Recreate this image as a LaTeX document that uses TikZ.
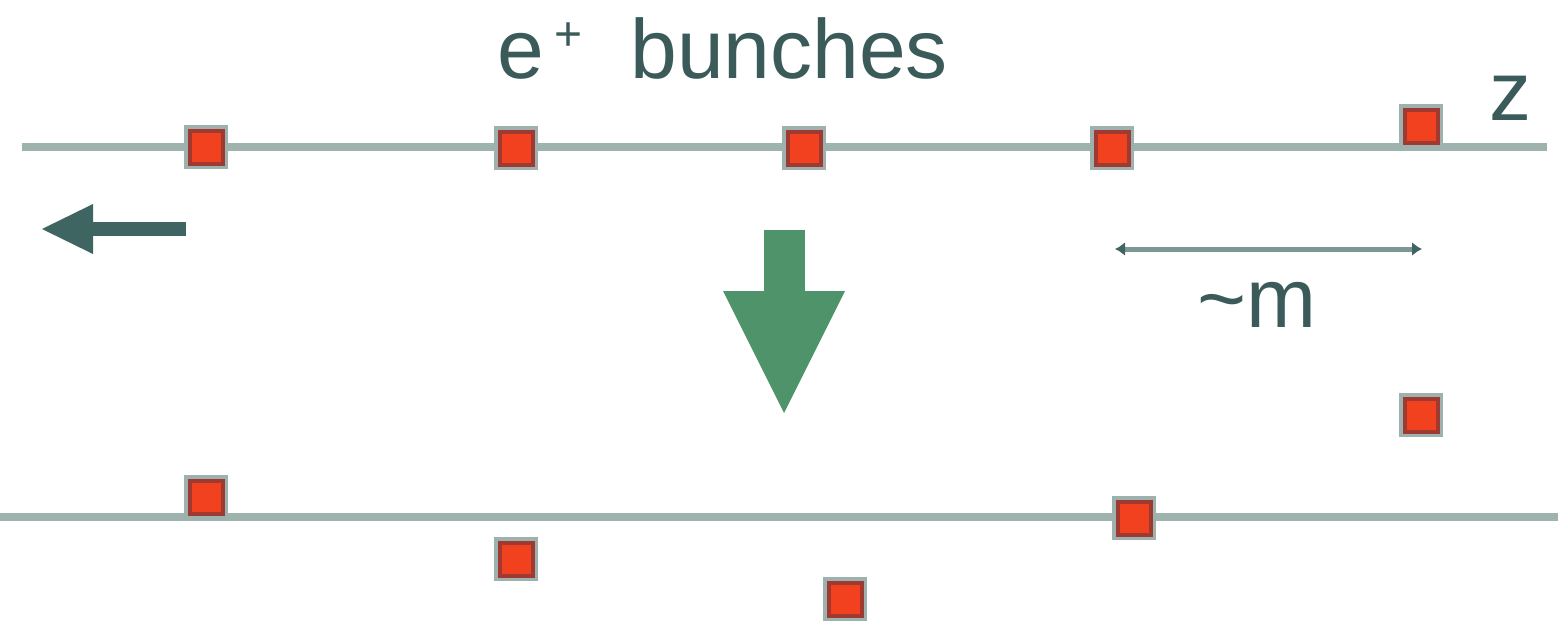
\documentclass[tikz,border=0pt]{standalone}
\usepackage{fontspec}
\setmainfont{Liberation Sans}
\usetikzlibrary{arrows.meta}
\definecolor{beam}{HTML}{9EB3AE}
\definecolor{ink}{HTML}{3B5B5A}
\definecolor{bunchred}{HTML}{F2411F}
\definecolor{bunchedge}{HTML}{9E3A32}
\definecolor{halo}{HTML}{9DB2AE}
\definecolor{motion}{HTML}{3E6561}
\definecolor{kick}{HTML}{4E936A}
\definecolor{span}{HTML}{7C9894}
\begin{document}
\begin{tikzpicture}[x=0.5pt,y=-0.5pt,
  beamline/.style={draw=beam,line width=4pt},
  bunch/.style={draw=bunchedge,fill=bunchred,line width=2pt,
    minimum size=16.5pt,inner sep=0pt,outer sep=0pt,
    preaction={draw=halo,line width=5.5pt}},
  label/.style={text=ink,inner sep=0pt,font=\fontsize{42}{50}\selectfont},
  motionarrow/.style={draw=motion,line width=7pt,
    -{Triangle[length=25.5pt,width=25pt,line width=0pt,color=motion]}},
  kickarrow/.style={draw=kick,line width=20.5pt,
    -{Triangle[length=61pt,width=61pt,line width=0pt,color=kick]}},
  spanarrow/.style={draw=span,line width=2.5pt,
    {Latex[length=5pt,width=7pt,color=motion]}-{Latex[length=5pt,width=7pt,color=motion]}}]
\useasboundingbox (0,0) rectangle (1558,621);

% beam axes before and after the kick
\coordinate (t0) at (22,147);
\coordinate (t1) at (1547,147);
\coordinate (b0) at (0,517);
\coordinate (b1) at (1558,517);
\draw[beamline] (t0) -- (t1);
\draw[beamline] (b0) -- (b1);

% bunches on the nominal orbit
\node[bunch] (u1) at (206,147) {};
\node[bunch] (u2) at (516,148) {};
\node[bunch] (u3) at (804,148) {};
\node[bunch] (u4) at (1112,148) {};
\node[bunch] (u5) at (1421,126) {};

% bunches after the transverse kick
\node[bunch] (d1) at (206,497) {};
\node[bunch] (d2) at (516,559) {};
\node[bunch] (d3) at (845,599) {};
\node[bunch] (d4) at (1134,518) {};
\node[bunch] (d5) at (1421,415) {};

% labels
\node[label,anchor=base west] (e) at (497,78) {e};
\node[text=ink,inner sep=0pt,font=\fontsize{24}{24}\selectfont] (plus) at (569,37) {+};
\node[label,anchor=base west] (bn) at (630,78) {bunches};
\node[label,anchor=base] (z) at (1510,120) {z};
\node[label,anchor=base] (m) at (1257,327) {\textasciitilde m};

% direction of motion
\coordinate (la1) at (186,229);
\coordinate (la2) at (42,229);
\draw[motionarrow] (la1) -- (la2);

% kick
\coordinate (k1) at (784,230);
\coordinate (k2) at (784,413);
\draw[kickarrow] (k1) -- (k2);

% bunch spacing
\coordinate (s1) at (1115,249);
\coordinate (s2) at (1422,249);
\draw[spanarrow] (s1) -- (s2);
\end{tikzpicture}
\end{document}
